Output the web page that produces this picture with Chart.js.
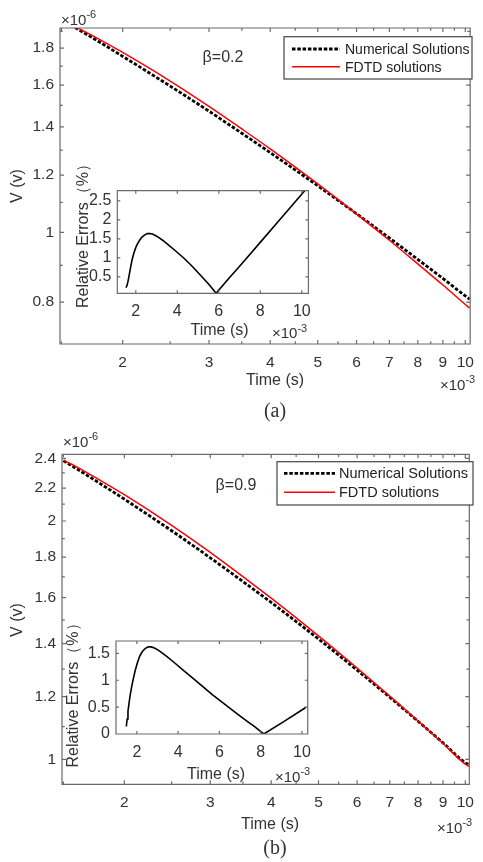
<!DOCTYPE html>
<html>
<head>
<meta charset="utf-8">
<script src="https://cdn.jsdelivr.net/npm/chart.js@4.4.1/dist/chart.umd.min.js"></script>
<style>
  body { margin: 0; background: #fff; }
  #wrap { position: relative; width: 483px; height: 862px; overflow: hidden; background: #fff; }
  canvas { position: absolute; }
</style>
</head>
<body>
<div id="wrap">
  <canvas id="mainA" width="483" height="430" style="left:0;top:0"></canvas>
  <canvas id="insetA" width="260" height="205" style="left:60px;top:140px"></canvas>
  <canvas id="mainB" width="483" height="432" style="left:0;top:430px"></canvas>
  <canvas id="insetB" width="265" height="195" style="left:55px;top:595px"></canvas>
</div>
<script>
// time in ms (x 10^-3 s), voltages in uV (x 10^-6 V)
const timeMs = [1.5, 1.6, 1.8, 2, 2.5, 3, 3.5, 4, 5, 6, 7, 8, 9, 10, 10.2];

// beta = 0.2
const numericalA = [1.974, 1.923, 1.833, 1.754, 1.595, 1.472, 1.372, 1.290, 1.160, 1.061, 0.982, 0.917, 0.863, 0.816, 0.808];
const fdtdA      = [1.978, 1.929, 1.849, 1.776, 1.621, 1.495, 1.391, 1.305, 1.167, 1.060, 0.975, 0.904, 0.845, 0.794, 0.785];

// beta = 0.9
const numericalB = [2.383, 2.326, 2.222, 2.131, 1.944, 1.797, 1.677, 1.578, 1.419, 1.296, 1.198, 1.117, 1.049, 0.990, 0.984];
const fdtdB      = [2.386, 2.339, 2.244, 2.159, 1.975, 1.826, 1.701, 1.598, 1.432, 1.304, 1.202, 1.118, 1.047, 0.986, 0.979];

// relative errors (%)
const errTimeA = [1.52, 1.56, 1.6, 1.65, 1.7, 1.76, 1.81, 1.87, 1.94, 2.02, 2.1, 2.2, 2.3, 2.42, 2.55, 2.68, 2.8, 2.95,
                  3.1, 3.31, 3.6, 3.95, 4.35, 4.74, 5.13, 5.53, 5.87, 6.5, 7.11, 8.06, 9.02, 10.13, 10.25];
const errA     = [0.22, 0.25, 0.32, 0.45, 0.60, 0.78, 0.92, 1.05, 1.18, 1.30, 1.39, 1.48, 1.55, 1.60, 1.64, 1.645, 1.63, 1.59,
                  1.54, 1.46, 1.33, 1.17, 0.98, 0.77, 0.54, 0.30, 0.07, 0.47, 0.85, 1.45, 2.06, 2.76, 2.84];
const errTimeB = [1.49, 1.53, 1.57, 1.62, 1.68, 1.75, 1.83, 1.92, 2.03, 2.14, 2.26, 2.4, 2.55, 2.7, 2.85, 3.04, 3.4,
                  3.81, 4.27, 4.74, 5.2, 5.67, 6.3, 6.91, 7.3, 7.69, 8.15, 9.08, 10.09, 10.2];
const errB     = [0.14, 0.28, 0.42, 0.57, 0.73, 0.88, 1.03, 1.18, 1.33, 1.45, 1.53, 1.59, 1.62, 1.62, 1.60, 1.56, 1.46,
                  1.33, 1.18, 1.03, 0.88, 0.73, 0.54, 0.36, 0.25, 0.14, 0.0, 0.22, 0.47, 0.50];

// tick values
const xTicks = [2, 3, 4, 5, 6, 7, 8, 9, 10];
const xMinor = [1.5, 2.5, 3.5, 4.5, 5.5, 6.5, 7.5, 8.5, 9.5];
const yTicksA = [0.8, 1, 1.2, 1.4, 1.6, 1.8];
const yMinorA = [0.9, 1.1, 1.3, 1.5, 1.7, 1.9];
const yTicksB = [1, 1.2, 1.4, 1.6, 1.8, 2, 2.2, 2.4];
const yMinorB = [1.1, 1.3, 1.5, 1.7, 1.9, 2.1, 2.3];
const insetXTicks = [2, 4, 6, 8, 10];
const insetYTicksA = [0.5, 1, 1.5, 2, 2.5];
const insetYTicksB = [0, 0.5, 1, 1.5];

const SANS = '"Liberation Sans", Arial, sans-serif';
const SERIF = '"Liberation Serif", "Times New Roman", serif';
const TEXT = '#333';
const AXIS = '#6b6b6b';

function pts(xs, ys) { return xs.map((x, i) => ({ x: x, y: ys[i] })); }

// "x10^n" multiplier label
function expLabel(ctx, x, base, exp, size) {
  ctx.font = size + 'px ' + SANS;
  ctx.textAlign = 'left';
  ctx.textBaseline = 'alphabetic';
  ctx.fillText('\u00d710', x, base);
  const w = ctx.measureText('\u00d710').width;
  ctx.font = Math.round(size * 0.72) + 'px ' + SANS;
  ctx.fillText(exp, x + w, base - size * 0.45);
}

// box round the axes with inward ticks on all four sides
function framePlugin(cfg) {
  return {
    id: 'frame',
    beforeDatasetsDraw(chart) {
      const a = chart.chartArea;
      const ctx = chart.ctx;
      ctx.save();
      ctx.fillStyle = '#fff';
      ctx.fillRect(a.left, a.top, a.width, a.height);
      ctx.restore();
    },
    afterDatasetsDraw(chart) {
      const { ctx, chartArea: a, scales: { x, y } } = chart;
      ctx.save();
      ctx.strokeStyle = AXIS;
      ctx.lineWidth = 1.2;
      ctx.beginPath();
      const onX = (vals, len) => vals.forEach(v => {
        const p = x.getPixelForValue(v);
        if (p <= a.left + 1 || p >= a.right - 1) return;
        ctx.moveTo(p, a.bottom); ctx.lineTo(p, a.bottom - len);
        ctx.moveTo(p, a.top); ctx.lineTo(p, a.top + len);
      });
      const onY = (vals, len) => vals.forEach(v => {
        const p = y.getPixelForValue(v);
        if (p <= a.top + 1 || p >= a.bottom - 1) return;
        ctx.moveTo(a.left, p); ctx.lineTo(a.left + len, p);
        ctx.moveTo(a.right, p); ctx.lineTo(a.right - len, p);
      });
      onX(cfg.xMajor, cfg.len);
      onX(cfg.xMinor || [], cfg.len * 0.7);
      onY(cfg.yMajor, cfg.len);
      onY(cfg.yMinor || [], cfg.len * 0.7);
      ctx.rect(a.left, a.top, a.width, a.height);
      ctx.stroke();
      ctx.restore();
    }
  };
}

// free text, multipliers and the boxed legend
function notesPlugin(cfg) {
  return {
    id: 'notes',
    afterDraw(chart) {
      const ctx = chart.ctx;
      ctx.save();
      ctx.fillStyle = TEXT;
      (cfg.items || []).forEach(it => {
        if (it.exp) { expLabel(ctx, it.x, it.y, it.exp, it.size); return; }
        ctx.save();
        ctx.translate(it.x, it.y);
        if (it.rot) ctx.rotate(it.rot);
        ctx.font = it.size + 'px ' + (it.family || SANS);
        ctx.textAlign = 'center';
        ctx.textBaseline = 'middle';
        ctx.fillText(it.t, 0, 0);
        ctx.restore();
      });
      const lg = cfg.legend;
      if (lg) {
        ctx.fillStyle = '#fff';
        ctx.fillRect(lg.x0, lg.y0, lg.x1 - lg.x0, lg.y1 - lg.y0);
        ctx.strokeStyle = '#444';
        ctx.lineWidth = 1.2;
        ctx.strokeRect(lg.x0, lg.y0, lg.x1 - lg.x0, lg.y1 - lg.y0);
        chart.data.datasets.forEach((ds, i) => {
          const ry = lg.rows[i];
          ctx.save();
          ctx.strokeStyle = ds.borderColor;
          ctx.lineWidth = ds.borderWidth;
          ctx.setLineDash(ds.borderDash || []);
          ctx.beginPath();
          ctx.moveTo(lg.l0, ry);
          ctx.lineTo(lg.l1, ry);
          ctx.stroke();
          ctx.restore();
          ctx.fillStyle = '#222';
          ctx.font = lg.size + 'px ' + SANS;
          ctx.textAlign = 'left';
          ctx.textBaseline = 'middle';
          ctx.fillText(ds.label, lg.tx, ry + 1);
        });
      }
      ctx.restore();
    }
  };
}

function tickFont(size) { return { family: SANS, size: size }; }

function mainChart(id, box, yr, yTicks, yMinor, num, fdtd, notes) {
  const canvas = document.getElementById(id);
  return new Chart(canvas, {
    type: 'line',
    data: {
      datasets: [
        { label: 'Numerical Solutions', data: pts(timeMs, num), borderColor: '#000', borderWidth: 2.8,
          borderDash: [3.5, 1.8], pointRadius: 0, order: 1, clip: 0, cubicInterpolationMode: 'monotone' },
        { label: 'FDTD solutions', data: pts(timeMs, fdtd), borderColor: '#ff0000', borderWidth: 1.5,
          pointRadius: 0, order: 0, clip: 0, cubicInterpolationMode: 'monotone' }
      ]
    },
    options: {
      responsive: false, animation: false, devicePixelRatio: 1, events: [],
      layout: { padding: { left: 0, top: box.top, right: canvas.width - box.right, bottom: 0 } },
      plugins: { legend: { display: false }, tooltip: { enabled: false } },
      scales: {
        x: {
          type: 'logarithmic', min: 1.49, max: box.xmax,
          afterFit: s => { s.height = canvas.height - box.bottom; },
          afterBuildTicks: s => { s.ticks = xTicks.map(v => ({ value: v })); },
          ticks: { autoSkip: false, maxRotation: 0, padding: 9, color: TEXT, font: tickFont(15.5), callback: v => String(v) },
          grid: { display: false, drawTicks: false }, border: { display: false }
        },
        y: {
          type: 'logarithmic', min: yr[0], max: yr[1],
          afterFit: s => { s.width = box.left; },
          afterBuildTicks: s => { s.ticks = yTicks.map(v => ({ value: v })); },
          ticks: { autoSkip: false, padding: 6, color: TEXT, font: tickFont(15.5), callback: v => String(v) },
          grid: { display: false, drawTicks: false }, border: { display: false }
        }
      }
    },
    plugins: [framePlugin({ xMajor: xTicks, xMinor: xMinor, yMajor: yTicks, yMinor: yMinor, len: 4 }), notesPlugin(notes)]
  });
}

function insetChart(id, box, xr, yr, yTicks, tx, ty) {
  const canvas = document.getElementById(id);
  return new Chart(canvas, {
    type: 'line',
    data: {
      datasets: [
        { label: 'Relative Errors', data: pts(tx, ty), borderColor: '#000', borderWidth: 1.6,
          pointRadius: 0, clip: 0, tension: 0 }
      ]
    },
    options: {
      responsive: false, animation: false, devicePixelRatio: 1, events: [],
      layout: { padding: { left: 0, top: box.top, right: canvas.width - box.right, bottom: 0 } },
      plugins: { legend: { display: false }, tooltip: { enabled: false } },
      scales: {
        x: {
          type: 'linear', min: xr[0], max: xr[1],
          afterFit: s => { s.height = canvas.height - box.bottom; },
          afterBuildTicks: s => { s.ticks = insetXTicks.map(v => ({ value: v })); },
          ticks: { autoSkip: false, maxRotation: 0, padding: 9, color: TEXT, font: tickFont(16), callback: v => String(v) },
          grid: { display: false, drawTicks: false }, border: { display: false }
        },
        y: {
          type: 'linear', min: yr[0], max: yr[1],
          afterFit: s => { s.width = box.left; },
          afterBuildTicks: s => { s.ticks = yTicks.map(v => ({ value: v })); },
          ticks: { autoSkip: false, padding: 6, color: TEXT, font: tickFont(16), callback: v => String(v) },
          grid: { display: false, drawTicks: false }, border: { display: false }
        }
      }
    },
    plugins: [framePlugin({ xMajor: insetXTicks, yMajor: yTicks, len: 3 }), notesPlugin(box.notes)]
  });
}

const UP = -Math.PI / 2;
const errTitle = 'Relative Errors\uff08%\uff09';

mainChart('mainA', { left: 60, top: 28, right: 478, bottom: 344, xmax: 10.23 }, [0.72, 1.92], yTicksA, yMinorA,
  numericalA, fdtdA, {
    items: [
      { exp: '-6', x: 61, y: 25, size: 15 },
      { t: 'V (v)', x: 18, y: 186, size: 16, rot: UP },
      { t: 'Time (s)', x: 275, y: 381, size: 16 },
      { exp: '-3', x: 440, y: 390, size: 15 },
      { t: '\u03b2=0.2', x: 223, y: 58, size: 16 },
      { t: '(a)', x: 275, y: 412, size: 20, family: SERIF }
    ],
    legend: { x0: 284, y0: 36.7, x1: 472, y1: 79, rows: [49, 66.7], l0: 292, l1: 340, tx: 345, size: 14 }
  });

insetChart('insetA', { left: 57.3, top: 50.7, right: 251, bottom: 153.3, notes: {
    items: [
      { t: 'Time (s)', x: 159.5, y: 191, size: 16 },
      { exp: '-3', x: 212, y: 198.3, size: 15 },
      { t: errTitle, x: 24, y: 92, size: 16, rot: UP }
    ]
  } }, [1.11, 10.32], [0.07, 2.77], insetYTicksA, errTimeA, errA);

mainChart('mainB', { left: 62, top: 24.3, right: 478, bottom: 354.3, xmax: 10.19 }, [0.93, 2.428], yTicksB, yMinorB,
  numericalB, fdtdB, {
    items: [
      { exp: '-6', x: 63, y: 16.7, size: 15 },
      { t: 'V (v)', x: 18, y: 190, size: 16, rot: UP },
      { t: 'Time (s)', x: 270, y: 395, size: 16 },
      { exp: '-3', x: 437, y: 402.7, size: 15 },
      { t: '\u03b2=0.9', x: 236, y: 56, size: 16 },
      { t: '(b)', x: 275, y: 419, size: 20, family: SERIF }
    ],
    legend: { x0: 277, y0: 31.7, x1: 473, y1: 75, rows: [43.3, 62.3], l0: 284, l1: 335, tx: 339, size: 14.5 }
  });

insetChart('insetB', { left: 61, top: 46, right: 260, bottom: 139, notes: {
    items: [
      { t: 'Time (s)', x: 161, y: 180, size: 16 },
      { exp: '-3', x: 220, y: 186.7, size: 15 },
      { t: errTitle, x: 18.5, y: 96.5, size: 16, rot: UP }
    ]
  } }, [0.99, 10.28], [0, 1.73], insetYTicksB, errTimeB, errB);
</script>
</body>
</html>
